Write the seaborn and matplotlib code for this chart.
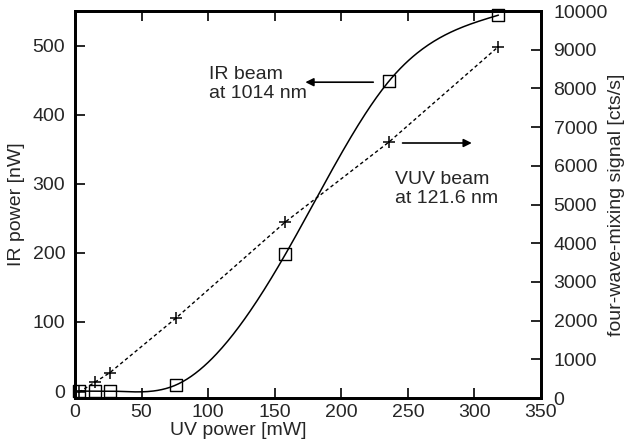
import numpy as np
import matplotlib
matplotlib.use("Agg")
import matplotlib.pyplot as plt
import seaborn as sns

# data
uv_power = [3, 15, 26, 76, 158, 236, 318]          # mW
ir_power = [0, 0, 0, 9, 198, 449, 544]             # nW (left axis)
vuv_signal = [150, 410, 650, 2070, 4550, 6620, 9080]  # cts/s (right axis)

x_ticks = [0, 50, 100, 150, 200, 250, 300, 350]
left_ticks = [0, 100, 200, 300, 400, 500]
right_ticks = [0, 1000, 2000, 3000, 4000, 5000, 6000, 7000, 8000, 9000, 10000]


def natural_spline(x, y, n=300):
    # smooth curve through the points (like gnuplot "smooth csplines")
    x = np.asarray(x, float)
    y = np.asarray(y, float)
    k = len(x)
    h = np.diff(x)
    A = np.zeros((k, k))
    b = np.zeros(k)
    A[0, 0] = A[-1, -1] = 1
    for i in range(1, k - 1):
        A[i, i - 1] = h[i - 1]
        A[i, i] = 2 * (h[i - 1] + h[i])
        A[i, i + 1] = h[i]
        b[i] = 6 * ((y[i + 1] - y[i]) / h[i] - (y[i] - y[i - 1]) / h[i - 1])
    M = np.linalg.solve(A, b)
    xs = np.linspace(x[0], x[-1], n)
    idx = np.clip(np.searchsorted(x, xs) - 1, 0, k - 2)
    x0, x1 = x[idx], x[idx + 1]
    hh = x1 - x0
    ys = (M[idx] * (x1 - xs) ** 3 / (6 * hh) + M[idx + 1] * (xs - x0) ** 3 / (6 * hh)
          + (y[idx] / hh - M[idx] * hh / 6) * (x1 - xs)
          + (y[idx + 1] / hh - M[idx + 1] * hh / 6) * (xs - x0))
    return xs, ys


sns.set_style("ticks")
plt.rcParams["font.family"] = ["Liberation Sans", "DejaVu Sans"]
plt.rcParams["font.size"] = 14

fig = plt.figure(figsize=(6.31, 4.44), dpi=100)
ax = fig.add_axes([0.1189, 0.1036, 0.7385, 0.8716])
ax2 = ax.twinx()

# IR power: spline curve + open squares
xs, ys = natural_spline(uv_power, ir_power)
sns.lineplot(x=xs, y=ys, ax=ax, color="black", lw=1.1, sort=False)
sns.scatterplot(x=uv_power, y=ir_power, ax=ax, marker="s", s=75,
                facecolor="none", edgecolor="black", linewidth=1.0,
                zorder=5, clip_on=False)

# VUV signal: dashed line + crosses
sns.lineplot(x=uv_power, y=vuv_signal, ax=ax2, color="black", lw=1.0,
             linestyle=(0, (2.5, 2)), sort=False)
sns.scatterplot(x=uv_power, y=vuv_signal, ax=ax2, marker="+", s=70,
                color="black", linewidth=1.1, zorder=5, clip_on=False)

ax.set_xlim(0, 350)
ax.set_ylim(-10, 550)
ax2.set_ylim(0, 10000)
ax.set_xticks(x_ticks)
ax.set_yticks(left_ticks)
ax2.set_yticks(right_ticks)

ax.tick_params(axis="x", direction="in", length=7, width=1.4, top=True, pad=4)
ax.tick_params(axis="y", direction="in", length=7, width=1.4, right=False, pad=7)
ax2.tick_params(axis="y", direction="in", length=7, width=1.4, pad=9)

for a in (ax, ax2):
    for s in a.spines.values():
        s.set_visible(True)
        s.set_linewidth(2.0)
        s.set_color("black")

ax.set_xlabel("UV power [mW]")
ax.set_ylabel("IR power [nW]")
ax2.set_ylabel("four-wave-mixing signal [cts/s]")
ax.xaxis.set_label_coords(0.35, -0.062)
ax.yaxis.set_label_coords(-0.107, 0.5)
ax2.yaxis.set_label_coords(1.143, 0.5)

# annotations
ax.text(100.5, 470, "IR beam\nat 1014 nm", ha="left", va="top", linespacing=1.15)
ax.annotate("", xy=(173, 447), xytext=(224, 447),
            arrowprops=dict(arrowstyle="-|>", color="black", lw=1.2,
                            mutation_scale=12, shrinkA=0, shrinkB=0))
ax.text(240, 318, "VUV beam\nat 121.6 nm", ha="left", va="top", linespacing=1.15)
ax.annotate("", xy=(298, 359), xytext=(246, 359),
            arrowprops=dict(arrowstyle="-|>", color="black", lw=1.2,
                            mutation_scale=12, shrinkA=0, shrinkB=0))

fig.savefig("out.png", dpi=100)
